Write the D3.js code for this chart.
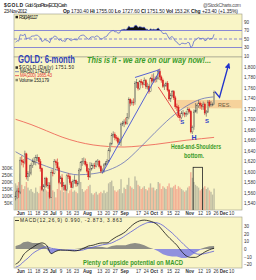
<!DOCTYPE html>
<html>
<head>
<meta charset="utf-8">
<script src="https://cdn.jsdelivr.net/npm/d3@7"></script>
<style>
body { margin: 0; background: #fff; }
svg { display: block; font-family: "Liberation Sans", Arial, sans-serif; }
</style>
</head>
<body>
<div id="chart"></div>
<script>
// daily bars, weekdays from 29-May-2012
const startDate = "2012-05-29";
const firstOpen = 1550;
const closes = [1552,1563,1561,1622,1619,1617,1634,1590,1596,
  1597,1612,1619,1619,1627, 1627,1619,1606,1566,1572, 1587,1574,1574,1551,1598,
  1597,1619,1617,1607,1579, 1588,1571,1573,1566,1592, 1591,1579,1570,1581,1583,
  1577,1577,1603,1617,1619, 1620,1614,1601,1590,1605, 1612,1612,1610,1619,1620,
  1610,1601,1601,1613,1615, 1620,1641,1653,1669,1671, 1665,1664,1656,1656,1691,
  1692,1695,1692,1703,1738, 1731,1733,1732,1769,1770, 1759,1772,1770,1767,1774,
  1763,1763,1753,1778,1773, 1777,1776,1779,1792,1781, 1775,1763,1764,1769,1756,
  1739,1746,1753,1741,1724, 1723,1707,1703,1712,1712, 1710,1711,1719,1715,1676,
  1684,1714,1717,1726,1731, 1727,1725,1729,1712,1714, 1733,1726,1728,1728,1751.5];
const highs = [1562,1568,1569,1628,1630,1624,1640,1636,1601,
  1613,1616,1625,1628,1632, 1633,1628,1624,1608,1576, 1590,1590,1580,1579,1604,
  1604,1624,1623,1625,1610, 1592,1595,1580,1576,1595, 1597,1595,1582,1585,1593,
  1585,1582,1607,1620,1626, 1627,1625,1618,1607,1618, 1617,1616,1617,1622,1624,
  1622,1613,1606,1616,1620, 1624,1645,1656,1674,1677, 1675,1670,1667,1663,1694,
  1697,1700,1703,1712,1742, 1740,1737,1740,1773,1777, 1771,1775,1777,1773,1780,
  1777,1770,1767,1781,1786, 1788,1782,1783,1796,1797, 1784,1778,1768,1772,1773,
  1758,1750,1756,1756,1745, 1730,1727,1712,1716,1718, 1714,1716,1723,1722,1718,
  1688,1719,1731,1730,1737, 1734,1731,1734,1732,1718, 1737,1737,1735,1732,1755];
const lows = [1545,1548,1550,1557,1612,1608,1614,1585,1582,
  1590,1593,1607,1613,1612, 1620,1613,1600,1563,1562, 1568,1570,1567,1548,1550,
  1591,1595,1612,1603,1576, 1576,1567,1564,1563,1563, 1586,1575,1568,1568,1577,
  1571,1572,1576,1600,1611, 1614,1610,1598,1584,1588, 1602,1606,1605,1608,1612,
  1606,1597,1596,1598,1610, 1613,1618,1637,1650,1665, 1660,1658,1652,1651,1649,
  1687,1685,1689,1690,1700, 1725,1727,1726,1728,1760, 1755,1756,1765,1760,1765,
  1758,1757,1749,1752,1770, 1770,1770,1771,1776,1775, 1770,1760,1756,1762,1753,
  1735,1733,1742,1737,1720, 1716,1703,1697,1700,1707, 1704,1705,1708,1711,1673,
  1672,1680,1713,1711,1722, 1720,1718,1718,1708,1705, 1712,1723,1724,1725,1727.6];
// volume in thousands
const volumes = [190,175,200,260,180,150,170,200,160,
  140,150,130,120,160, 130,120,170,230,180, 150,140,130,200,210,
  140,130,90,150,190, 140,150,130,150,170, 120,140,150,130,140,
  130,120,190,200,150, 130,140,150,170,180, 120,110,120,130,110,
  120,130,120,140,120, 130,190,200,210,170, 140,130,140,150,220,
  120,160,150,180,230, 170,160,150,240,210, 180,170,150,160,170,
  150,140,160,190,160, 160,140,150,200,190, 150,170,160,150,170,
  190,160,160,170,180, 150,170,160,150,140, 130,140,160,170,270,
  230,200,180,170,160, 140,150,160,170,150, 160,140,130,110,153];
const rsiValues = [42,46,45,60,59,58,62,50,52,
  52,56,57,57,59, 59,56,53,44,46, 49,46,46,41,52,
  52,57,56,53,47, 49,45,46,44,51, 51,48,46,49,49,
  48,48,55,58,59, 59,56,52,49,53, 55,55,54,57,57,
  53,50,50,54,55, 57,63,66,69,70, 67,67,64,64,71,
  72,73,72,74,80, 77,77,77,82,82, 77,79,78,77,78,
  73,73,69,74,72, 73,72,73,76,71, 68,63,63,64,58,
  51,54,56,51,45, 43,38,36,40,40, 39,39,42,41,30,
  33,45,47,51,53, 51,51,52,46,47, 53,50,51,51,61.17];

const maDays = [0,10,20,30,40,50,60,70,80,90,100,110,120,128];
const ma50Values = [1638,1622,1610,1600,1594,1596,1603,1618,1645,1675,1703,1725,1739,1742.89];
const ma200Values = [1700,1690,1678,1666,1657,1651,1648,1647,1649,1652,1656,1660,1663,1665.43];

const macdDays = [0,3,5,8,11,14,17,20,23,26,29,32,35,38,41,44,47,50,53,56,59,62,65,68,71,74,77,80,83,86,89,92,95,98,101,104,107,110,113,116,119,122,125,128];
const macdValues = [-20,-15,-8,-2,2,6,8,5,-6,-3,-1.5,-1.5,-2,-2.5,-1.5,1,4,5,7,8,8,12,16,19,23,29,34,37,38,37,35,31,24,17,11,5,-3,-9,-11,-11,-8,-4,-1,0.99];
const signalValues = [-24,-21,-17,-12,-6,-2,1,3,1,0,-1,-1.5,-1.5,-2,-2,-1,1,2.5,4,5.5,6.5,8,11,14,18,22,26,30,33,35,35,34,31,26,21,15,9,3,-2,-6,-7,-6,-4.5,-2.873];

const tickDates = ["2012-06-01","2012-06-11","2012-06-18","2012-06-25","2012-07-02","2012-07-09","2012-07-16","2012-07-23","2012-08-01","2012-08-13","2012-08-20","2012-08-27","2012-09-04","2012-09-17","2012-09-24","2012-10-01","2012-10-08","2012-10-15","2012-10-22","2012-11-01","2012-11-12","2012-11-19","2012-11-26","2012-12-03","2012-12-10"];
const tickLabels = ["Jun","11","18","25","Jul","9","16","23","Aug","13","20","27","Sep","17","24","Oct","8","15","22","Nov","12","19","26","Dec","10"];
const priceTicks = [1540,1560,1580,1600,1620,1640,1660,1680,1700,1720,1740,1760,1780,1800];
const volTicks = [50,100,150,200,250,300];
const rsiTicks = [10,30,50,70,90];
const macdTicks = [-20,-10,0,10,20,30];

// hand drawn annotations, in (day, price)
const trendUp = [[56,1597],[93,1793]];
const trendTop = [[77,1780],[93,1795]];
const trendDown = [[92,1762],[105,1703]];
const arrowPath = [[128.5,1753],[131.5,1742],[137.5,1806]];
const resBand = [104,146,1721,1737];
const volBox = [114.5,120.5,305];

const bg = "#f9f5c6";
const svg = d3.select("#chart").append("svg").attr("width", 256).attr("height", 280);
svg.append("rect").attr("width", 256).attr("height", 280).attr("fill", "#fff");

const fmt = d3.timeFormat("%Y-%m-%d");
const parse = d3.timeParse("%Y-%m-%d");
const tradingDays = d3.timeDays(parse(startDate), parse("2012-12-31"))
  .filter(d => d.getDay() % 6 !== 0).map(fmt);
const tickIdx = tickDates.map(d => tradingDays.indexOf(d));

const x = d3.scaleLinear().domain([-1, 146]).range([14, 242]);
const yRsi = d3.scaleLinear().domain([0, 100]).range([60.25, 17.75]);
const yP = d3.scaleLinear().domain([1540, 1800]).range([203, 67]);
const yV = d3.scaleLinear().domain([0, 300]).range([210, 168]);
const yM = d3.scaleLinear().domain([-20, 30]).range([264.2, 226.2]);

const panels = [["rsi", 14, 57], ["price", 57, 210], ["macd", 217, 268]];
const defs = svg.append("defs");
panels.forEach(([id, t, b]) => {
  svg.append("rect").attr("x", 14).attr("y", t).attr("width", 228).attr("height", b - t)
    .attr("fill", bg).attr("stroke", "#9a9a88").attr("stroke-width", 0.6);
  defs.append("clipPath").attr("id", "clip-" + id).append("rect")
    .attr("x", 14).attr("y", t).attr("width", 228).attr("height", b - t);
});
defs.append("marker").attr("id", "head").attr("viewBox", "0 0 10 10").attr("refX", 8).attr("refY", 5)
  .attr("markerWidth", 4).attr("markerHeight", 4).attr("orient", "auto")
  .append("path").attr("d", "M0,0L10,5L0,10z").attr("fill", "#2233cc");

function axisStyle(g) {
  g.select(".domain").remove();
  g.selectAll("text").attr("font-size", 4.6).attr("fill", "#333").attr("font-family", "Liberation Sans, Arial");
}

// ---- header
const hdr = svg.append("g").attr("font-size", 5).attr("fill", "#222");
hdr.append("text").attr("x", 4).attr("y", 7).attr("font-weight", "bold").attr("textLength", 19).text("$GOLD");
hdr.append("text").attr("x", 25).attr("y", 7).attr("textLength", 42).text("Gold - Spot Price (EOD) Cash");
hdr.append("text").attr("x", 203).attr("y", 7).attr("fill", "#555").attr("textLength", 38).text("@StockCharts.com");
hdr.append("text").attr("x", 4).attr("y", 13).attr("textLength", 23).text("23-Nov-2012");
const ohlc = hdr.append("text").attr("x", 63).attr("y", 13).attr("textLength", 175);
[["Op ", 1], ["1730.40 ", 0], ["Hi ", 1], ["1755.00 ", 0], ["Lo ", 1], ["1727.60 ", 0], ["Cl ", 1], ["1751.50 ", 0],
 ["Vol ", 1], ["153.2K ", 0], ["Chg ", 1], ["+23.40 (+1.35%)", 0]].forEach(([t, b]) =>
  ohlc.append("tspan").attr("font-weight", b ? "bold" : "normal").text(t));

// ---- RSI panel
const rsiG = svg.append("g").attr("clip-path", "url(#clip-rsi)");
rsiG.append("path").datum(rsiValues)
  .attr("d", d3.area().x((d, i) => x(i)).y0(yRsi(70)).y1(d => yRsi(Math.max(d, 70))))
  .attr("fill", "#111");
[70, 50, 30].forEach(v => rsiG.append("line").attr("x1", 14).attr("x2", 242)
  .attr("y1", yRsi(v)).attr("y2", yRsi(v)).attr("stroke", "#6d6dd6").attr("stroke-width", 0.8)
  .attr("stroke-dasharray", v === 50 ? "3,2" : null));
rsiG.append("path").datum(rsiValues)
  .attr("d", d3.line().x((d, i) => x(i)).y(d => yRsi(d)))
  .attr("fill", "none").attr("stroke", "#4a5ad0").attr("stroke-width", 0.7);
svg.append("rect").attr("x", 15.5).attr("y", 15.8).attr("width", 2.5).attr("height", 2.5).attr("fill", "#222");
svg.append("text").attr("x", 19).attr("y", 18.6).attr("font-size", 4.8).attr("fill", "#222")
  .attr("textLength", 19).text("RSI(14) 61.17");
svg.append("g").attr("transform", "translate(242,0)")
  .call(d3.axisRight(yRsi).tickValues(rsiTicks).tickSize(0).tickPadding(2)).call(axisStyle);

// ---- price panel
const pg = svg.append("g").attr("clip-path", "url(#clip-price)");
const bars = closes.map((c, i) => ({ i, o: i ? closes[i - 1] : firstOpen, h: highs[i], l: lows[i], c, v: volumes[i] }));

pg.selectAll(".vol").data(bars).enter().append("rect")
  .attr("x", d => x(d.i) - 0.7).attr("width", 1.4)
  .attr("y", d => yV(d.v)).attr("height", d => yV(0) - yV(d.v))
  .attr("fill", d => d.c < d.o ? "#f2a88f" : "#b9b89e").attr("opacity", 0.9);

pg.append("rect").attr("x", x(volBox[0])).attr("width", x(volBox[1]) - x(volBox[0]))
  .attr("y", yV(volBox[2])).attr("height", yV(0) - yV(volBox[2]) + 2)
  .attr("fill", "none").attr("stroke", "#222").attr("stroke-width", 0.8);

pg.append("rect").attr("x", x(resBand[0])).attr("width", x(resBand[1]) - x(resBand[0]))
  .attr("y", yP(resBand[3])).attr("height", yP(resBand[2]) - yP(resBand[3]))
  .attr("fill", "#f4c68c").attr("opacity", 0.75);

const maLine = d3.line().x(d => x(d[0])).y(d => yP(d[1])).curve(d3.curveMonotoneX);
pg.append("path").datum(maDays.map((d, i) => [d, ma200Values[i]])).attr("d", maLine)
  .attr("fill", "none").attr("stroke", "#ee6a5a").attr("stroke-width", 0.9);
pg.append("path").datum(maDays.map((d, i) => [d, ma50Values[i]])).attr("d", maLine)
  .attr("fill", "none").attr("stroke", "#6670b8").attr("stroke-width", 0.8);

const candle = pg.selectAll(".cdl").data(bars).enter().append("g");
candle.append("line").attr("x1", d => x(d.i)).attr("x2", d => x(d.i))
  .attr("y1", d => yP(d.h)).attr("y2", d => yP(d.l))
  .attr("stroke", d => d.c < d.o ? "#d81e1e" : "#555").attr("stroke-width", 0.6);
candle.append("rect").attr("x", d => x(d.i) - 0.65).attr("width", 1.3)
  .attr("y", d => yP(Math.max(d.o, d.c)))
  .attr("height", d => Math.max(0.6, Math.abs(yP(d.o) - yP(d.c))))
  .attr("fill", d => d.c < d.o ? "#d81e1e" : bg)
  .attr("stroke", d => d.c < d.o ? "#d81e1e" : "#555").attr("stroke-width", 0.4);

const seg = d3.line().x(d => x(d[0])).y(d => yP(d[1]));
[[trendUp, "#4350d6"], [trendTop, "#4350d6"], [trendDown, "#e23a3a"]].forEach(([pts, col]) =>
  pg.append("path").attr("d", seg(pts)).attr("fill", "none").attr("stroke", col).attr("stroke-width", 0.9));
pg.append("path").attr("d", seg(arrowPath)).attr("fill", "none").attr("stroke", "#2233cc")
  .attr("stroke-width", 1.4).attr("marker-end", "url(#head)");

// legend
const lg = svg.append("g").attr("font-size", 4.6).attr("fill", "#222");
lg.append("rect").attr("x", 15.5).attr("y", 66.3).attr("width", 2.5).attr("height", 2.5).attr("fill", "#333");
lg.append("text").attr("x", 19).attr("y", 69.2).attr("textLength", 55).text("$GOLD (Daily) 1751.50");
lg.append("line").attr("x1", 15).attr("x2", 19).attr("y1", 71.7).attr("y2", 71.7).attr("stroke", "#6670b8").attr("stroke-width", 0.8);
lg.append("text").attr("x", 20).attr("y", 73.2).attr("textLength", 30).text("MA(50) 1742.89");
lg.append("line").attr("x1", 15).attr("x2", 19).attr("y1", 75.7).attr("y2", 75.7).attr("stroke", "#e23a3a").attr("stroke-width", 0.8);
lg.append("text").attr("x", 20).attr("y", 77.2).attr("fill", "#e23a3a").attr("textLength", 32).text("MA(200) 1665.43");
lg.append("rect").attr("x", 15.5).attr("y", 78.8).attr("width", 2.5).attr("height", 2.5).attr("fill", "#8a8a70");
lg.append("text").attr("x", 19).attr("y", 81.5).attr("textLength", 30).text("Volume 153,179");

// annotations text
svg.append("text").attr("x", 18).attr("y", 62.5).attr("font-size", 10).attr("font-weight", "bold")
  .attr("fill", "#2f3fb8").attr("textLength", 57).attr("lengthAdjust", "spacingAndGlyphs").text("GOLD: 6-month");
svg.append("text").attr("x", 87).attr("y", 62.5).attr("font-size", 8.5).attr("font-weight", "bold")
  .attr("font-style", "italic").attr("fill", "#3a9b2a").attr("textLength", 124).attr("lengthAdjust", "spacingAndGlyphs")
  .text("This is it - we are on our way now!...");
[[107.5, 1695], [123.5, 1697]].forEach(([d, p]) => svg.append("text").attr("x", x(d)).attr("y", yP(p) + 2.2)
  .attr("text-anchor", "middle").attr("font-size", 6).attr("font-weight", "bold").attr("fill", "#2f3fc8").text("S"));
svg.append("text").attr("x", x(115)).attr("y", yP(1664) + 1.5).attr("text-anchor", "middle")
  .attr("font-size", 7).attr("font-weight", "bold").attr("fill", "#2f3fc8").text("H");
svg.append("text").attr("x", 171).attr("y", 148.5).attr("font-size", 6.3).attr("font-weight", "bold")
  .attr("fill", "#3a9b2a").attr("textLength", 50).attr("lengthAdjust", "spacingAndGlyphs").text("Head-and-Shoulders");
svg.append("text").attr("x", 184).attr("y", 157.5).attr("font-size", 6.3).attr("font-weight", "bold")
  .attr("fill", "#3a9b2a").attr("textLength", 20).attr("lengthAdjust", "spacingAndGlyphs").text("bottom.");
svg.append("text").attr("x", 218).attr("y", 107).attr("font-size", 5.5).attr("fill", "#6a5a40")
  .attr("textLength", 13).text("RES.");

svg.append("g").attr("transform", "translate(242,0)")
  .call(d3.axisRight(yP).tickValues(priceTicks).tickSize(0).tickPadding(2)).call(axisStyle);
svg.append("g").attr("transform", "translate(14,0)")
  .call(d3.axisLeft(yV).tickValues(volTicks).tickFormat(d => d + "K").tickSize(0).tickPadding(1.5)).call(axisStyle);

function dateAxis(yPos, pad) {
  const g = svg.append("g").attr("transform", `translate(0,${yPos})`)
    .call(d3.axisBottom(x).tickValues(tickIdx).tickFormat((d, i) => tickLabels[i]).tickSize(0).tickPadding(pad))
    .call(axisStyle);
  g.selectAll("text").attr("font-weight", (d, i) => isNaN(+tickLabels[i]) ? "bold" : "normal");
}
dateAxis(210, 1.5);
dateAxis(268, 2);

// ---- MACD panel
const mg = svg.append("g").attr("clip-path", "url(#clip-macd)");
const hist = macdDays.map((d, i) => [d, macdValues[i] - signalValues[i]]);
mg.append("path").datum(hist)
  .attr("d", d3.area().x(d => x(d[0])).y0(yM(0)).y1(d => yM(Math.max(d[1], 0))))
  .attr("fill", "#8e8e86");
mg.append("path").datum(hist)
  .attr("d", d3.area().x(d => x(d[0])).y0(yM(0)).y1(d => yM(Math.min(d[1], 0))))
  .attr("fill", "#9090de");
const mLine = d3.line().x(d => x(d[0])).y(d => yM(d[1])).curve(d3.curveMonotoneX);
mg.append("path").datum(macdDays.map((d, i) => [d, signalValues[i]])).attr("d", mLine)
  .attr("fill", "none").attr("stroke", "#5a5ad8").attr("stroke-width", 0.8);
mg.append("path").datum(macdDays.map((d, i) => [d, macdValues[i]])).attr("d", mLine)
  .attr("fill", "none").attr("stroke", "#111").attr("stroke-width", 0.8);
svg.append("line").attr("x1", 15).attr("x2", 19).attr("y1", 220.5).attr("y2", 220.5).attr("stroke", "#111").attr("stroke-width", 0.8);
svg.append("text").attr("x", 20).attr("y", 222.3).attr("font-size", 4.8).attr("fill", "#222")
  .attr("textLength", 102).text("MACD(12,26,9) 0.990, -2.873, 3.863");
svg.append("text").attr("x", 83).attr("y", 264.5).attr("font-size", 7.5).attr("font-weight", "bold")
  .attr("fill", "#3a9b2a").attr("textLength", 100).attr("lengthAdjust", "spacingAndGlyphs")
  .text("Plenty of upside potential on MACD");
svg.append("g").attr("transform", "translate(242,0)")
  .call(d3.axisRight(yM).tickValues(macdTicks).tickSize(0).tickPadding(2)).call(axisStyle);
</script>
</body>
</html>
